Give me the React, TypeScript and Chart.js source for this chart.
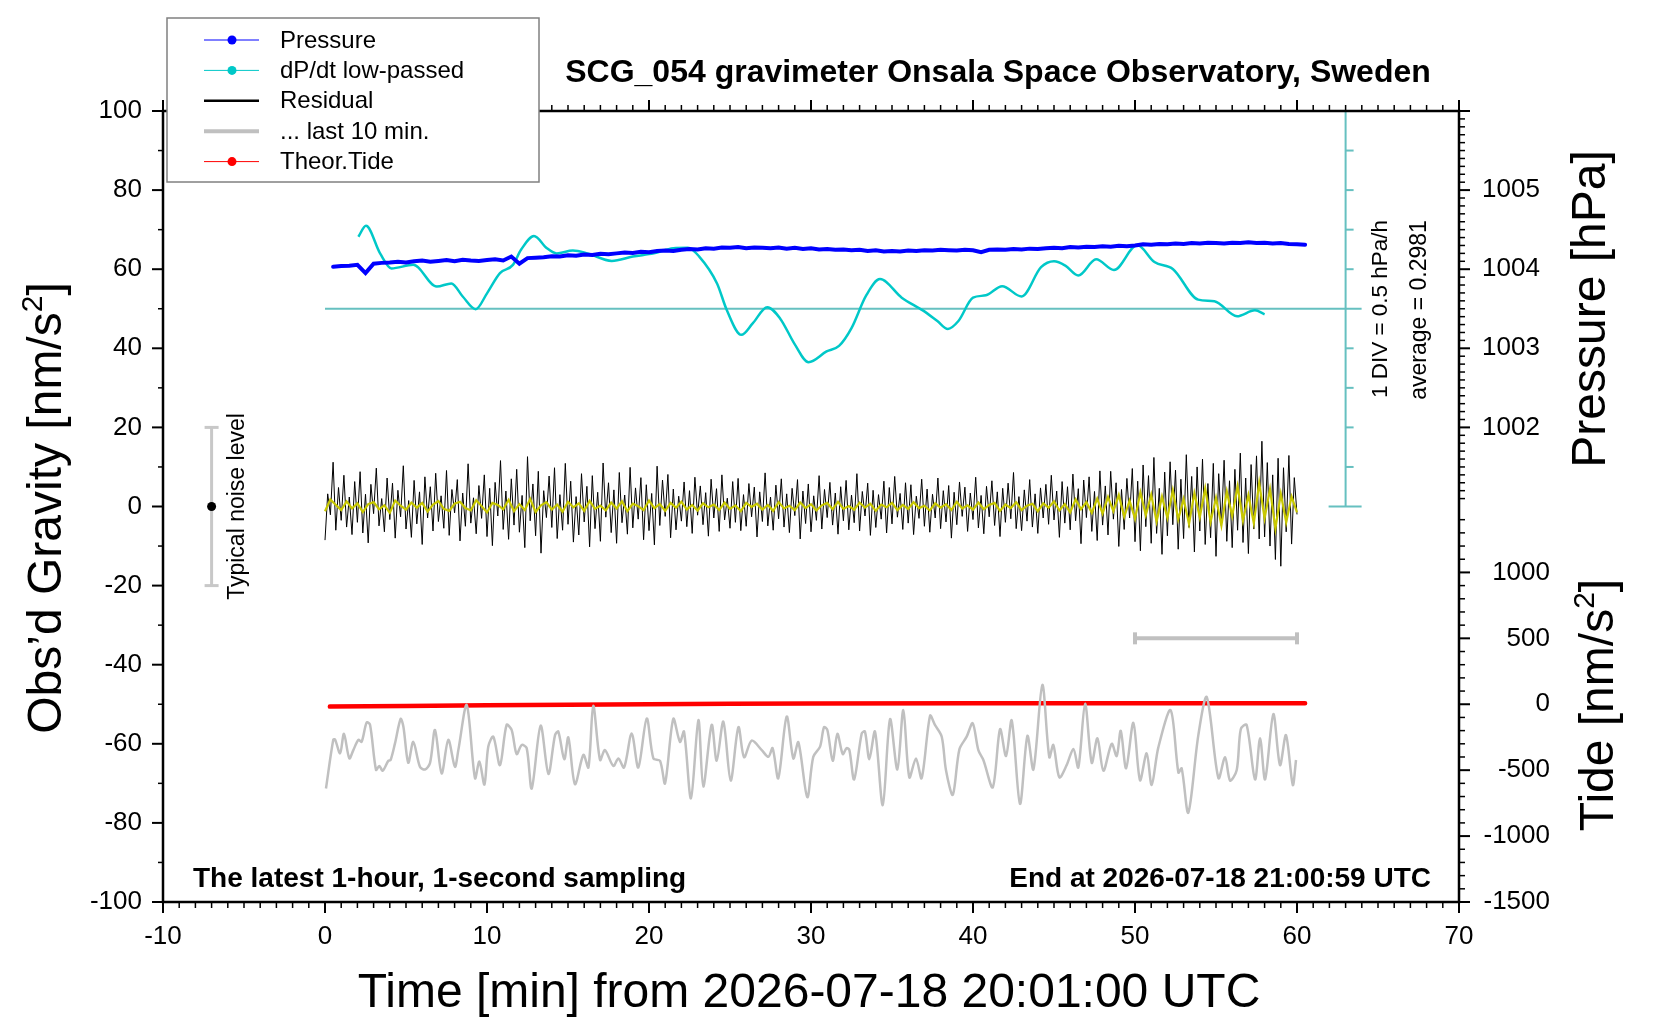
import React, { useEffect, useRef } from "react";
import Chart from "chart.js/auto";

const FONT = "'Liberation Sans', Arial, Helvetica, sans-serif";
const TEAL = "#66c0c0";

// axis tick labels
const timeTicks = [-10, 0, 10, 20, 30, 40, 50, 60, 70];
const gravityTicks = [-100, -80, -60, -40, -20, 0, 20, 40, 60, 80, 100];
const pressureTicks = [1002, 1003, 1004, 1005];
const tideTicks = [-1500, -1000, -500, 0, 500, 1000];

// residual gravity [nm/s^2], one value every 10 s from 0 to 60 min
const residualStepSec = 10;
const residual = [
  -8.5, 3.2, -2.1, 11.2, -6.0, 4.8, -3.5, 7.9, -5.2, 2.4, -7.1, 6.3,
  -4.0, 8.8, -6.7, 3.1, -9.2, 5.6, -1.8, 9.7, -4.9, 2.0, -6.4, 7.2,
  -3.3, 5.9, -8.0, 4.1, -2.6, 10.3, -5.7, 1.5, -7.8, 6.6, -4.4, 3.7,
  -9.6, 7.5, -2.9, 5.0, -6.2, 8.4, -3.8, 2.7, -5.5, 9.1, -7.3, 4.3,
  -1.6, 6.8, -8.7, 3.4, -5.0, 10.8, -4.2, 2.2, -6.9, 5.3, -3.0, 8.0,
  -7.6, 4.6, -9.9, 6.1, -2.4, 11.6, -5.8, 3.9, -8.3, 7.0, -4.7, 9.4,
  -6.5, 2.8, -10.4, 12.6, -3.6, 5.7, -7.4, 8.9, -11.8, 4.0, -2.8, 7.7,
  -5.3, 9.8, -8.1, 3.0, -6.0, 10.9, -4.5, 6.4, -9.0, 2.5, -7.2, 8.3,
  -3.9, 5.1, -10.2, 7.8, -5.6, 3.6, -8.8, 11.0, -2.7, 6.0, -6.6, 4.2,
  -9.3, 8.6, -4.1, 2.9, -7.0, 9.9, -5.4, 4.7, -3.2, 7.3, -8.4, 5.5,
  -6.1, 3.3, -9.7, 10.2, -4.8, 6.7, -2.5, 8.1, -7.9, 4.4, -5.9, 2.6,
  -3.7, 6.2, -5.1, 4.0, -6.8, 7.4, -2.2, 5.2, -4.6, 3.5, -7.5, 6.9,
  -2.9, 4.5, -6.3, 8.0, -3.4, 2.1, -5.5, 6.3, -4.0, 7.1, -6.1, 3.0,
  -5.0, 5.8, -2.6, 4.9, -7.7, 3.7, -3.8, 8.5, -4.9, 2.4, -6.0, 5.4,
  -3.1, 7.0, -5.2, 3.2, -6.6, 4.6, -2.3, 6.8, -8.2, 3.9, -4.3, 5.7,
  -6.4, 2.7, -3.5, 7.8, -5.7, 4.3, -2.8, 6.1, -4.7, 3.4, -7.0, 5.0,
  -3.6, 6.6, -5.9, 2.9, -4.1, 8.3, -6.2, 3.8, -2.4, 5.9, -7.3, 4.1,
  -5.3, 3.0, -3.2, 6.4, -6.7, 4.8, -4.4, 7.6, -2.7, 3.3, -5.8, 6.0,
  -4.2, 5.5, -7.1, 2.6, -3.0, 6.9, -5.0, 4.4, -6.5, 3.1, -2.9, 7.2,
  -5.6, 4.0, -3.9, 5.3, -8.0, 3.6, -4.6, 6.2, -2.5, 4.9, -6.3, 3.4,
  -3.3, 7.4, -5.4, 2.8, -6.9, 5.1, -2.6, 6.5, -4.8, 3.7, -7.6, 4.6,
  -4.0, 5.9, -3.1, 8.6, -5.6, 2.5, -6.1, 4.2, -3.7, 6.8, -5.2, 3.2,
  -6.8, 4.7, -2.9, 5.6, -4.5, 7.9, -3.4, 3.9, -7.8, 6.3, -4.2, 5.0,
  -5.9, 8.2, -3.6, 4.5, -9.4, 6.7, -2.8, 7.5, -6.3, 3.8, -8.6, 9.0,
  -4.7, 5.2, -7.2, 8.9, -3.2, 6.0, -10.1, 4.3, -5.8, 7.1, -2.9, 9.6,
  -8.9, 6.4, -11.2, 10.5, -5.1, 7.8, -9.3, 12.4, -6.8, 4.6, -12.1, 8.7,
  -7.4, 11.3, -4.6, 9.2, -10.8, 6.9, -8.1, 13.1, -5.3, 7.6, -11.5, 10.0,
  -6.2, 12.0, -9.6, 5.8, -7.9, 10.9, -12.6, 8.3, -4.9, 11.7, -8.8, 6.5,
  -10.4, 9.4, -6.0, 13.5, -9.1, 7.2, -11.9, 10.6, -5.7, 12.8, -8.2, 16.5,
  -7.7, 11.1, -10.0, 8.0, -13.4, 12.2, -15.1, 9.8, -6.4, 12.9, -9.5, 7.3,
  -2.0,
];

// low-passed residual [nm/s^2], one value every 20 s
const lowPassStepSec = 20;
const lowPassed = [
  -1.2, 1.8, 0.4, -0.9, 1.3, -0.5, 0.8, -1.4, 0.6,
  1.1, -0.7, 0.3, -1.6, 1.5, 0.2, -0.8, 1.0, -0.3,
  0.9, -1.3, 0.5, 1.4, -0.6, -1.1, 0.7, 1.2, -0.4,
  -1.0, 1.6, 0.1, -1.5, 0.9, 0.4, -0.7, 1.7, -1.2,
  0.6, -0.9, 1.9, -1.4, 0.3, 1.1, -0.8, 0.5, -1.3,
  1.2, -0.2, 0.8, -1.1, 1.4, -0.6, 0.2, -1.0, 1.0,
  -0.5, 1.3, -1.2, 0.7, 0.1, -0.9, 1.5, -0.4, 0.6,
  -1.1, 0.9, -0.3, 1.2, -0.8, 0.4, -1.0, 0.8, -0.2,
  0.5, -0.9, 1.0, -0.6, 0.3, -1.2, 0.9, -0.1, 0.7,
  -0.8, 0.4, -1.1, 1.1, -0.5, 0.2, -0.9, 1.0, -0.4,
  0.6, -1.0, 0.3, 0.9, -0.7, 1.2, -0.6, 0.1, -0.8,
  1.0, -0.3, 0.7, -1.1, 0.5, -0.2, 0.9, -0.9, 0.4,
  -0.6, 1.1, -0.4, 0.2, -1.0, 0.8, -0.3, 0.6, -0.9,
  1.2, -0.5, 0.3, -0.8, 1.0, -0.7, 0.4, 0.9, -1.1,
  0.5, -0.4, 1.1, -0.9, 0.2, 0.7, -1.2, 0.8, -0.3,
  1.3, -1.0, 0.6, -1.5, 1.8, -0.7, 1.1, -1.6, 2.0,
  -1.8, 2.4, -1.2, 2.9, -2.6, 1.5, -3.1, 3.6, -2.2,
  3.0, -3.8, 2.5, -2.9, 4.1, -3.3, 1.9, -4.4, 3.4,
  -2.7, 4.6, -3.9, 2.2, -4.8, 3.8, -2.4, 5.1, -3.6,
  2.9, -4.2, 6.0, -3.0, 4.4, -5.6, 3.2, -4.0, 2.5,
  -1.5,
];

// air pressure [hPa], every 0.5 min from 0.5 min
const pressureStartMin = 0.5;
const pressureStepMin = 0.5;
const pressureHpa = [
  1004.030, 1004.040, 1004.045, 1004.055, 1003.950, 1004.070, 1004.080, 1004.085, 1004.095, 1004.085,
  1004.100, 1004.110, 1004.095, 1004.105, 1004.115, 1004.100, 1004.120, 1004.110, 1004.105, 1004.115,
  1004.125, 1004.110, 1004.160, 1004.070, 1004.140, 1004.145, 1004.150, 1004.165, 1004.160, 1004.175,
  1004.170, 1004.185, 1004.180, 1004.195, 1004.190, 1004.200, 1004.210, 1004.205, 1004.220, 1004.215,
  1004.230, 1004.235, 1004.230, 1004.245, 1004.255, 1004.250, 1004.265, 1004.260, 1004.275, 1004.270,
  1004.280, 1004.265, 1004.275, 1004.270, 1004.265, 1004.275, 1004.260, 1004.270, 1004.255, 1004.265,
  1004.250, 1004.255, 1004.245, 1004.250, 1004.240, 1004.245, 1004.230, 1004.240, 1004.225, 1004.230,
  1004.225, 1004.235, 1004.230, 1004.240, 1004.235, 1004.245, 1004.240, 1004.235, 1004.245, 1004.240,
  1004.215, 1004.245, 1004.250, 1004.245, 1004.255, 1004.250, 1004.260, 1004.255, 1004.265, 1004.270,
  1004.265, 1004.280, 1004.275, 1004.285, 1004.280, 1004.290, 1004.285, 1004.295, 1004.290, 1004.300,
  1004.315, 1004.310, 1004.320, 1004.315, 1004.325, 1004.320, 1004.330, 1004.325, 1004.335, 1004.330,
  1004.325, 1004.335, 1004.330, 1004.340, 1004.330, 1004.335, 1004.325, 1004.330, 1004.320, 1004.315,
  1004.310,
];

// dP/dt low-passed [hPa/h]
const dpdtMin = [
  2.06, 2.53, 3.4, 4.1, 5.45, 6.9, 7.8, 8.5, 9.3, 10.0,
  10.8, 11.6, 12.1, 12.9, 13.7, 14.3, 15.3, 16.2, 17.7, 19.0,
  20.3, 21.5, 22.4, 23.1, 24.2, 24.8, 25.7, 26.4, 27.3, 28.1,
  29.0, 29.85, 30.96, 31.73, 32.5, 33.4, 34.26, 35.6, 36.9, 37.8,
  38.45, 39.1, 40.0, 40.8, 41.8, 43.0, 44.2, 45.0, 45.7, 46.5,
  47.6, 48.7, 50.14, 51.2, 52.35, 53.9, 54.9, 56.3, 57.4, 58.0,
];
const dpdtHpaH = [
  1.208, 1.348, 0.998, 0.808, 0.853, 0.578, 0.618, 0.453, 0.293, 0.493,
  0.748, 0.853, 1.043, 1.218, 1.063, 0.998, 1.033, 0.998, 0.903, 0.958,
  0.998, 1.063, 1.068, 0.958, 0.618, 0.283, -0.032, 0.113, 0.318, 0.173,
  -0.152, -0.377, -0.242, -0.172, 0.053, 0.463, 0.673, 0.438, 0.278, 0.143,
  0.043, 0.143, 0.438, 0.468, 0.583, 0.453, 0.823, 0.898, 0.843, 0.718,
  0.923, 0.788, 1.103, 0.888, 0.798, 0.413, 0.393, 0.203, 0.278, 0.228,
];
const dpdtAverage = 0.2981;
const dpdtPerDiv = 0.5;
const dpdtAxisAt = 63;

// theoretical tide [nm/s^2]
const tideMin = [0.3, 5, 10, 15, 20, 25, 30, 40, 50, 60.5];
const tideNms2 = [-18, -14, -8, -4, 0, 3, 5, 7, 7, 7];

// residual of the last 10 minutes, seconds after 50:00
const lastTenSec = [
  0.6, 5.1, 6.2, 9.3, 11.7, 15.0, 17.5, 20.6, 22.6, 25.7,
  27.8, 31.5, 33.5, 35.6, 39.1, 40.5, 43.2, 46.7, 48.4, 51.4,
  54.5, 58.6, 61.7, 64.8, 67.9, 72.0, 76.1, 80.2, 82.3, 87.5,
  92.6, 95.3, 98.4, 100.8, 103.9, 108.0, 112.1, 115.2, 118.3, 121.4,
  124.5, 127.6, 133.1, 137.9, 142.0, 144.0, 147.7, 150.2, 154.3, 159.5,
  162.6, 165.6, 169.8, 172.8, 178.0, 181.1, 184.6, 189.3, 193.4, 198.6,
  202.7, 206.8, 209.9, 215.0, 219.1, 221.6, 225.9, 230.5, 233.5, 238.7,
  241.8, 245.9, 250.4, 255.2, 258.7, 263.4, 269.6, 273.7, 276.3, 279.8,
  285.0, 289.1, 292.2, 297.7, 301.4, 305.6,
  308.0, 310.1, 313.4, 316.3, 319.6, 322.0, 323.7, 326.6, 331.3, 333.3,
  336.0, 339.5, 344.3, 348.8, 353.3, 357.0, 360.7, 364.8, 368.3, 373.5,
  376.5, 380.7, 383.3, 387.5, 391.6, 396.1, 399.8, 403.3, 406.4, 412.2,
  416.7, 420.4, 423.9, 429.0, 433.6, 437.3, 442.8, 447.1, 449.6, 453.3,
  457.8, 462.0, 465.0, 469.2, 473.3, 476.8, 480.5, 485.6, 488.7, 491.2,
  494.5, 499.0, 503.1, 507.2, 510.3, 514.4, 522.0, 526.8, 528.8, 532.9,
  539.1, 544.3, 551.5, 555.6, 558.7, 562.8, 565.3, 568.9, 574.1, 577.2,
  580.3, 585.4, 589.5, 593.2, 597.4, 599.4,
];
const lastTenRes = [
  -9.3, 3.0, 3.1, -0.4, 4.5, -1.7, 0.4, 3.0, 2.5, 7.4,
  6.8, -4.6, -3.6, -4.8, -2.3, -2.1, 2.1, 8.3, 6.3, -2.8,
  2.5, -3.8, -4.5, -2.9, 5.5, -5.5, 3.0, -3.8, 0.4, 11.8,
  -6.7, -2.5, -8.3, 1.3, 3.8, -3.4, 6.8, 5.5, -0.6, 1.7,
  0.9, -9.3, 6.6, -5.6, 4.2, 5.1, -1.9, 3.6, -8.2, -0.8,
  -4.0, 11.6, -2.1, 0.4, -3.6, -1.7, -4.0, 4.6, -4.0, 8.4,
  -1.7, -2.3, -8.0, 8.3, 2.5, 5.1, -11.8, 8.0, -8.8, 6.8,
  -2.3, 7.6, -7.3, 6.2, -1.4, 2.8, 0.4, -1.3, 0.9, -6.7,
  8.9, -1.7, 2.4, -11.5, -1.3, 1.3,
  6.2, 5.5, -2.3, 4.5, -0.6, 0.9, 0.4, -7.0, 4.6, 5.1,
  -1.9, 5.1, -13.5, 8.2, -4.5, 10.5, -6.5, -1.7, -6.7, 9.1,
  6.8, 3.8, -4.6, -10.9, 0.6, 3.8, 7.2, 0.4, -2.1, -9.0,
  5.7, -1.1, 7.9, -13.2, 4.0, -4.5, 16.9, -1.4, 1.7, -6.5,
  -3.4, 0.7, -4.0, 12.1, -2.8, 3.4, -4.8, 2.0, -1.1, 5.3,
  -4.2, 7.3, -7.2, -0.4, -8.4, 1.1, 10.5, -5.3, -4.2, -15.4,
  4.2, 13.8, -6.7, -1.4, -7.3, -4.6, 5.7, 6.8, -7.0, 3.4,
  -7.0, 9.5, -3.4, 4.2, -8.4, -2.1,
];
const lastTenOffset = -62;
const lastTenSpanMin = [50, 60];

// typical noise level marker
const noiseAtMin = -7;
const noiseLevel = [-20, 20];

const legendItems = [
  { label: "Pressure", color: "#0000ff", width: 1, dot: true },
  { label: "dP/dt low-passed", color: "#00c8c8", width: 1, dot: true },
  { label: "Residual", color: "#000000", width: 2.5, dot: false },
  { label: "... last 10 min.", color: "#c0c0c0", width: 4, dot: false },
  { label: "Theor.Tide", color: "#ff0000", width: 1, dot: true },
];

function seg(ctx: CanvasRenderingContext2D, x1: number, y1: number, x2: number, y2: number) {
  ctx.beginPath();
  ctx.moveTo(x1, y1);
  ctx.lineTo(x2, y2);
  ctx.stroke();
}

// text turned 90 deg counter-clockwise, centred on y, baseline at x
function upText(
  ctx: CanvasRenderingContext2D,
  parts: { t: string; size: number; rise?: number }[],
  x: number,
  y: number
) {
  ctx.save();
  ctx.translate(x, y);
  ctx.rotate(-Math.PI / 2);
  ctx.textAlign = "left";
  ctx.textBaseline = "alphabetic";
  const widths = parts.map((p) => {
    ctx.font = `${p.size}px ${FONT}`;
    return ctx.measureText(p.t).width;
  });
  let cx = -widths.reduce((a, b) => a + b, 0) / 2;
  parts.forEach((p, i) => {
    ctx.font = `${p.size}px ${FONT}`;
    ctx.fillText(p.t, cx, -(p.rise || 0));
    cx += widths[i];
  });
  ctx.restore();
}

const overlayPlugin = {
  id: "gravOverlay",
  beforeDatasetsDraw(chart: any) {
    const { ctx, scales } = chart;
    const x = scales.x;
    const ydp = scales.ydp;
    const ax = x.getPixelForValue(dpdtAxisAt);
    const mid = ydp.getPixelForValue(dpdtAverage);
    ctx.save();
    ctx.strokeStyle = TEAL;
    ctx.lineWidth = 2;
    seg(ctx, x.getPixelForValue(0), mid, ax + 16, mid);
    seg(ctx, ax, ydp.getPixelForValue(dpdtAverage + 5 * dpdtPerDiv), ax, ydp.getPixelForValue(dpdtAverage - 5 * dpdtPerDiv));
    for (let k = -5; k <= 5; k++) {
      const py = ydp.getPixelForValue(dpdtAverage + k * dpdtPerDiv);
      if (k === -5 || k === 5) seg(ctx, ax - 17, py, ax + 16, py);
      else if (k !== 0) seg(ctx, ax, py, ax + 8, py);
    }
    ctx.restore();
  },
  afterDraw(chart: any) {
    const { ctx, scales, chartArea } = chart;
    const { left, right, top, bottom } = chartArea;
    const x = scales.x;
    const y = scales.y;
    const yp = scales.yp;
    const yt = scales.yt;
    ctx.save();
    ctx.fillStyle = "#000";
    ctx.strokeStyle = "#000";

    // ticks
    for (let m = -10; m <= 70; m++) {
      const px = x.getPixelForValue(m);
      const major = m % 10 === 0;
      ctx.lineWidth = major ? 2 : 1.5;
      const len = major ? 11 : 6;
      seg(ctx, px, bottom, px, bottom + len);
      seg(ctx, px, top, px, top - len);
    }
    for (let v = -100; v <= 100; v += 10) {
      const py = y.getPixelForValue(v);
      const major = v % 20 === 0;
      ctx.lineWidth = major ? 2 : 1.5;
      seg(ctx, left - (major ? 11 : 5), py, left, py);
    }
    for (let i = 10011; i <= 10060; i++) {
      const py = yp.getPixelForValue(i / 10);
      const major = i % 10 === 0;
      ctx.lineWidth = major ? 2 : 1.5;
      seg(ctx, right, py, right + (major ? 11 : 6), py);
    }
    for (let t = -1500; t <= 1400; t += 100) {
      const py = yt.getPixelForValue(t);
      const major = t % 500 === 0;
      ctx.lineWidth = major ? 2 : 1.5;
      seg(ctx, right, py, right + (major ? 11 : 6), py);
    }

    // frame
    ctx.lineWidth = 2.5;
    ctx.strokeRect(left, top, right - left, bottom - top);

    // tick labels
    ctx.font = `26px ${FONT}`;
    ctx.textAlign = "center";
    ctx.textBaseline = "alphabetic";
    timeTicks.forEach((v) => ctx.fillText(String(v), x.getPixelForValue(v), 944));
    ctx.textAlign = "right";
    ctx.textBaseline = "middle";
    gravityTicks.forEach((v) => ctx.fillText(String(v), left - 21, y.getPixelForValue(v)));
    ctx.textAlign = "left";
    pressureTicks.forEach((v) => ctx.fillText(String(v), right + 23, yp.getPixelForValue(v)));
    ctx.textAlign = "right";
    tideTicks.forEach((v) => ctx.fillText(String(v), right + 91, yt.getPixelForValue(v)));

    // axis titles
    ctx.textBaseline = "alphabetic";
    ctx.textAlign = "center";
    ctx.font = `48px ${FONT}`;
    ctx.fillText("Time [min] from 2026-07-18 20:01:00 UTC", 809, 1007);
    upText(ctx, [{ t: "Obs\u2019d Gravity [nm/s", size: 48 }, { t: "2", size: 30, rise: 19 }, { t: "]", size: 48 }], 61, 508);
    upText(ctx, [{ t: "Pressure [hPa]", size: 48 }], 1605, 309);
    upText(ctx, [{ t: "Tide [nm/s", size: 48 }, { t: "2", size: 30, rise: 19 }, { t: "]", size: 48 }], 1613, 705);

    // annotations
    upText(ctx, [{ t: "Typical noise level", size: 23 }], 244, y.getPixelForValue(0));
    upText(ctx, [{ t: "1 DIV = 0.5 hPa/h", size: 22.5 }], 1387, 309);
    upText(ctx, [{ t: "average = 0.2981", size: 23 }], 1426, 310);

    ctx.font = `bold 32px ${FONT}`;
    ctx.textAlign = "center";
    ctx.fillText("SCG_054 gravimeter Onsala Space Observatory, Sweden", 998, 82);
    ctx.font = `bold 28px ${FONT}`;
    ctx.textAlign = "left";
    ctx.fillText("The latest 1-hour, 1-second sampling", 193, 887);
    ctx.textAlign = "right";
    ctx.fillText("End at 2026-07-18 21:00:59 UTC", 1431, 887);

    // legend
    ctx.fillStyle = "#fff";
    ctx.fillRect(167, 18, 372, 164);
    ctx.strokeStyle = "#808080";
    ctx.lineWidth = 1.5;
    ctx.strokeRect(167, 18, 372, 164);
    ctx.font = `24px ${FONT}`;
    ctx.textAlign = "left";
    ctx.textBaseline = "middle";
    legendItems.forEach((it, i) => {
      const ly = 40 + i * 30.4;
      ctx.strokeStyle = it.color;
      ctx.lineWidth = it.width;
      seg(ctx, 204, ly, 259, ly);
      if (it.dot) {
        ctx.fillStyle = it.color;
        ctx.beginPath();
        ctx.arc(232, ly, 4.5, 0, Math.PI * 2);
        ctx.fill();
      }
      ctx.fillStyle = "#000";
      ctx.fillText(it.label, 280, ly + 1);
    });
    ctx.restore();
  },
};

export default function App() {
  const canvasRef = useRef<HTMLCanvasElement>(null);

  useEffect(() => {
    document.body.style.margin = "0";
    const canvas = canvasRef.current;
    if (!canvas) return;

    const residualPts = residual.map((v, i) => ({ x: (i * residualStepSec) / 60, y: v }));
    const lowPts = lowPassed.map((v, i) => ({ x: (i * lowPassStepSec) / 60, y: v }));
    const pressurePts = pressureHpa.map((v, i) => ({ x: pressureStartMin + i * pressureStepMin, y: v }));
    const dpdtPts = dpdtMin.map((t, i) => ({ x: t, y: dpdtHpaH[i] }));
    const tidePts = tideMin.map((t, i) => ({ x: t, y: tideNms2[i] }));
    const lastTenPts = lastTenSec.map((s, i) => ({ x: s, y: lastTenRes[i] }));

    const chart = new Chart(canvas, {
      type: "line",
      data: {
        datasets: [
          {
            label: "noise dot",
            data: [{ x: noiseAtMin, y: 0 }],
            showLine: false,
            pointRadius: 4.5,
            pointBackgroundColor: "#000",
            pointBorderWidth: 0,
            order: 0,
          },
          {
            label: "Typical noise level",
            data: noiseLevel.map((v) => ({ x: noiseAtMin, y: v })),
            borderColor: "#c8c8c8",
            borderWidth: 3,
            pointStyle: "line",
            pointRadius: 7,
            pointBorderWidth: 3,
            pointBorderColor: "#c8c8c8",
            order: 1,
          },
          {
            label: "Pressure",
            data: pressurePts,
            yAxisID: "yp",
            borderColor: "#0000ff",
            borderWidth: 4,
            borderCapStyle: "round",
            order: 2,
          },
          {
            label: "dP/dt low-passed",
            data: dpdtPts,
            yAxisID: "ydp",
            borderColor: "#00c8c8",
            borderWidth: 2.5,
            cubicInterpolationMode: "monotone",
            order: 3,
          },
          {
            label: "Low-passed residual",
            data: lowPts,
            borderColor: "#c8c800",
            borderWidth: 2.2,
            order: 4,
          },
          {
            label: "Residual",
            data: residualPts,
            borderColor: "#000000",
            borderWidth: 1,
            order: 5,
          },
          {
            label: "... last 10 min.",
            data: lastTenPts,
            xAxisID: "xs",
            yAxisID: "yg",
            borderColor: "#c0c0c0",
            borderWidth: 2.5,
            tension: 0.3,
            order: 6,
          },
          {
            label: "Theor.Tide",
            data: tidePts,
            yAxisID: "yt",
            borderColor: "#ff0000",
            borderWidth: 4.5,
            borderCapStyle: "round",
            order: 7,
          },
          {
            label: "last 10 min span",
            data: lastTenSpanMin.map((m) => ({ x: m, y: 500 })),
            yAxisID: "yt",
            borderColor: "#c0c0c0",
            borderWidth: 4,
            pointStyle: "line",
            pointRotation: 90,
            pointRadius: 6,
            pointBorderWidth: 4,
            pointBorderColor: "#c0c0c0",
            order: 8,
          },
        ],
      },
      options: {
        responsive: false,
        animation: false,
        devicePixelRatio: 1,
        events: [],
        layout: { padding: { left: 163, right: 201, top: 111, bottom: 118 } },
        elements: { point: { radius: 0, hoverRadius: 0 }, line: { tension: 0 } },
        plugins: { legend: { display: false }, tooltip: { enabled: false }, title: { display: false } },
        scales: {
          x: { type: "linear", min: -10, max: 70, display: false },
          xs: { type: "linear", axis: "x", min: -100, max: 700, display: false },
          y: { type: "linear", min: -100, max: 100, display: false },
          yp: { type: "linear", axis: "y", min: 996, max: 1006, display: false },
          yt: { type: "linear", axis: "y", min: -1500, max: 4500, display: false },
          ydp: {
            type: "linear",
            axis: "y",
            min: dpdtAverage - 15 * dpdtPerDiv,
            max: dpdtAverage + 5 * dpdtPerDiv,
            display: false,
          },
          yg: { type: "linear", axis: "y", min: -100 - lastTenOffset, max: 100 - lastTenOffset, display: false },
        },
      },
      plugins: [overlayPlugin],
    } as any);

    return () => chart.destroy();
  }, []);

  return (
    <div style={{ position: "relative", width: 1660, height: 1020, background: "#fff" }}>
      <canvas ref={canvasRef} width={1660} height={1020} />
    </div>
  );
}
